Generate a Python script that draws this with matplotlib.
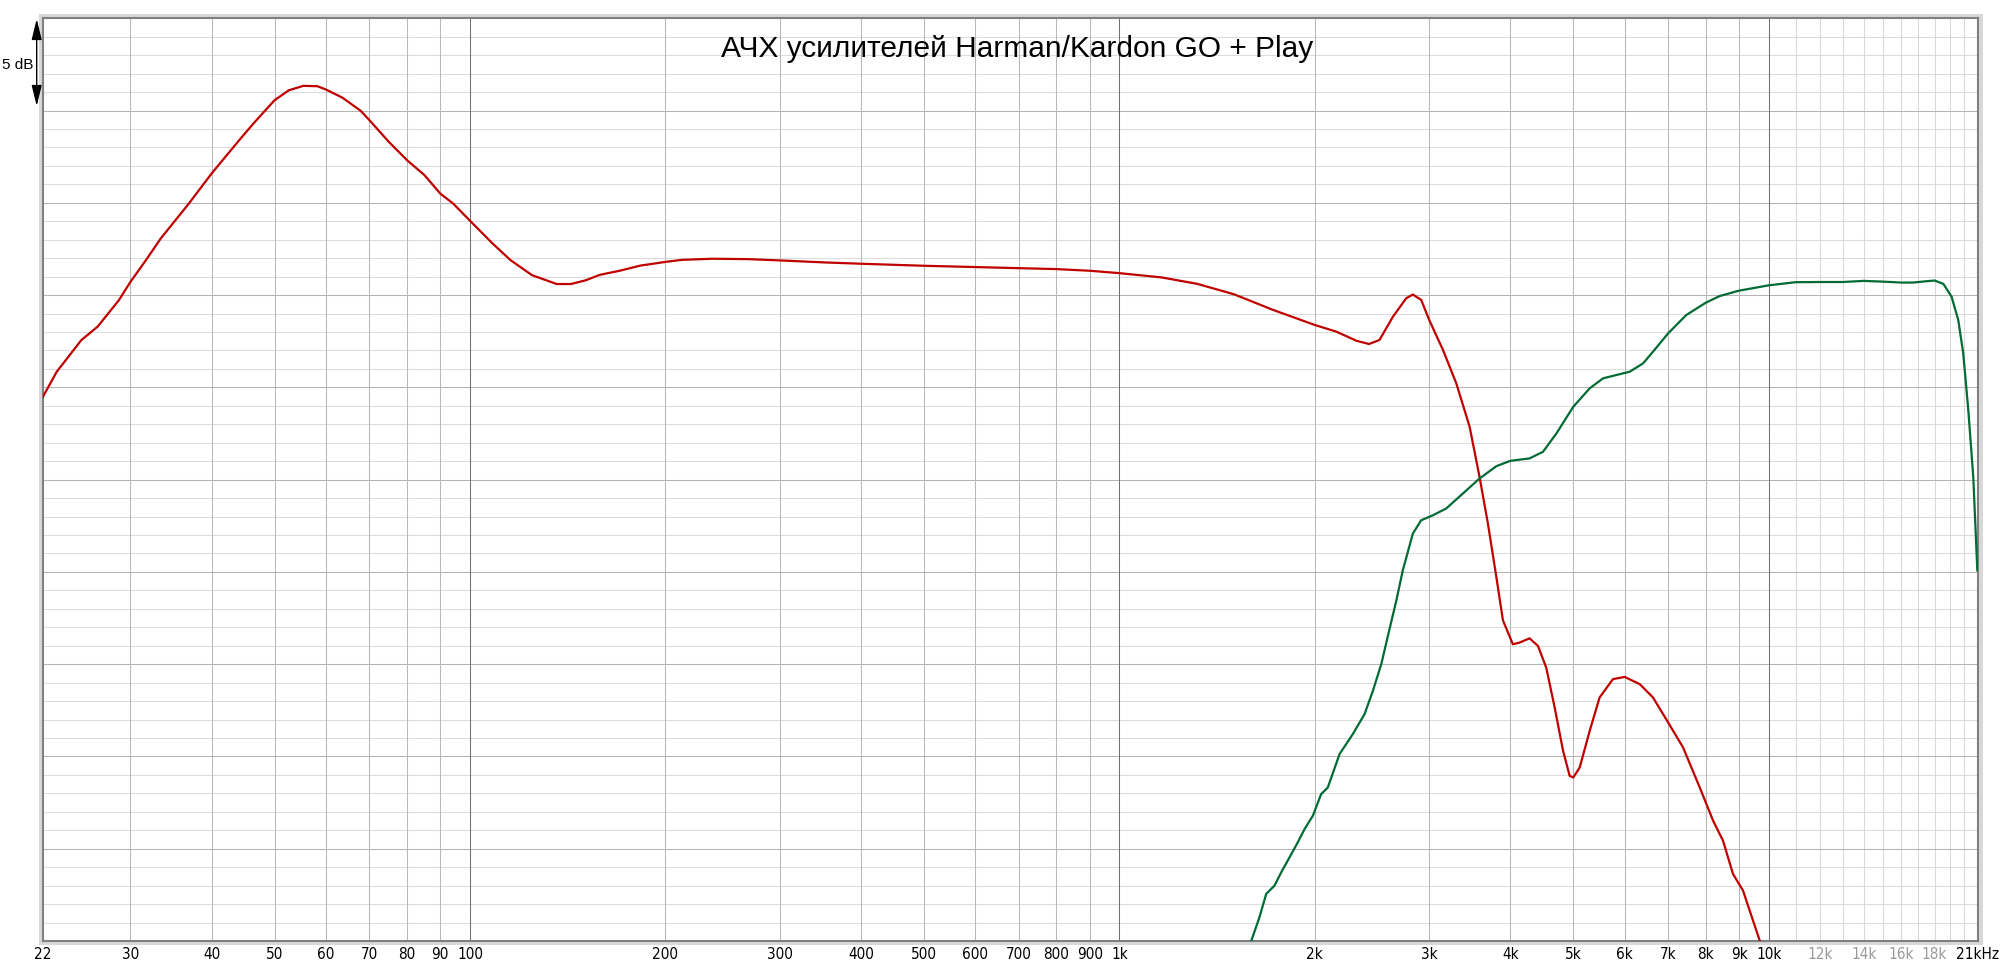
import matplotlib
matplotlib.use("Agg")
import matplotlib.pyplot as plt
from matplotlib.patches import Rectangle
from matplotlib import font_manager

# ---------------- data ----------------
title = "АЧХ усилителей Harman/Kardon GO + Play"

red_freq = [22, 23.1, 25.2, 26.7, 28.8, 30, 31.7, 33.4, 36.9, 40, 44.1, 46.4, 50, 52.6,
            55.4, 58.2, 60, 63.6, 67.8, 70, 75, 80, 85.1, 90, 94.2, 100, 108.3, 115.4,
            124.6, 136, 143, 150.6, 158.5, 170, 183, 200, 212, 236, 268, 300, 352, 400,
            500, 600, 700, 800, 900, 1000, 1161, 1318, 1500, 1724, 2000, 2158, 2316,
            2423, 2515, 2638, 2765, 2831, 2916, 3000, 3150, 3302, 3462, 3586, 3694,
            3806, 3896, 4036, 4133, 4281, 4412, 4544, 4681, 4822, 4936, 5000, 5115,
            5300, 5490, 5755, 6000, 6328, 6632, 7000, 7379, 7829, 8209, 8504, 8810,
            9128, 9458, 9685, 10000]
red_db = [29.5, 30.85, 32.56, 33.29, 34.73, 35.72, 36.9, 38.07, 39.96, 41.59, 43.39, 44.3,
          45.56, 46.1, 46.34, 46.32, 46.14, 45.7, 45.0, 44.48, 43.3, 42.31, 41.5, 40.5,
          39.96, 39.03, 37.8, 36.9, 36.08, 35.6, 35.6, 35.8, 36.1, 36.32, 36.6, 36.8,
          36.91, 36.97, 36.95, 36.88, 36.77, 36.7, 36.59, 36.52, 36.46, 36.41, 36.32,
          36.19, 35.96, 35.61, 35.05, 34.2, 33.38, 33.02, 32.53, 32.35, 32.57, 33.83,
          34.83, 35.03, 34.74, 33.65, 32.03, 30.22, 27.87, 25.15, 22.62, 19.73, 17.38,
          16.08, 16.17, 16.4, 15.99, 14.8, 12.65, 10.31, 8.95, 8.86, 9.40, 11.39, 13.2,
          14.19, 14.31, 13.92, 13.2, 11.84, 10.49, 8.32, 6.52, 5.43, 3.63, 2.73, 1.1,
          0.02, -1.5]

green_freq = [1560, 1596, 1643, 1683, 1733, 1775, 1828, 1882, 1928, 1986, 2045, 2094, 2183,
              2288, 2385, 2457, 2531, 2606, 2669, 2732, 2831, 2916, 3040, 3187, 3381, 3586,
              3806, 4000, 4281, 4491, 4709, 5000, 5300, 5557, 5826, 6108, 6404, 6632, 7000,
              7464, 8000, 8404, 9000, 10000, 11000, 12000, 13000, 14000, 15000, 16000,
              16670, 17470, 18000, 18570, 19120, 19580, 19930, 20290, 20650, 20950]
green_db = [-1.0, 0.0, 1.28, 2.55, 3.0, 3.72, 4.53, 5.34, 6.06, 6.79, 7.96, 8.32, 10.13,
            11.21, 12.29, 13.56, 15.0, 16.9, 18.43, 20.09, 22.08, 22.8, 23.07, 23.44, 24.25,
            25.06, 25.73, 26.02, 26.15, 26.51, 27.5, 28.95, 29.95, 30.49, 30.67, 30.85,
            31.3, 31.93, 32.93, 33.92, 34.59, 34.95, 35.24, 35.53, 35.7, 35.71, 35.71,
            35.77, 35.73, 35.68, 35.68, 35.75, 35.79, 35.61, 34.92, 33.65, 31.84, 28.77,
            25.15, 20.09]

tick_freqs = [22, 30, 40, 50, 60, 70, 80, 90, 100, 200, 300, 400, 500, 600, 700, 800, 900,
              1000, 2000, 3000, 4000, 5000, 6000, 7000, 8000, 9000, 10000, 12000, 14000,
              16000, 18000, 21000]
tick_labels = ["22", "30", "40", "50", "60", "70", "80", "90", "100", "200", "300", "400",
               "500", "600", "700", "800", "900", "1k", "2k", "3k", "4k", "5k", "6k", "7k",
               "8k", "9k", "10k", "12k", "14k", "16k", "18k", "21kHz"]
gray_labels = ["12k", "14k", "16k", "18k"]

# ---------------- figure ----------------
W, H = 2000, 965
fig = plt.figure(figsize=(W / 100, H / 100), dpi=100)
fig.patch.set_facecolor("white")

names = {f.name for f in font_manager.fontManager.ttflist}
if "Liberation Sans Narrow" in names:
    tick_family = ["Liberation Sans Narrow", "DejaVu Sans"]
    tick_kw = {}
else:
    tick_family = ["DejaVu Sans"]
    tick_kw = {"fontstretch": "condensed"}

L, R, T, B = 43, 1978, 18.3, 941
# frame shadow
fig.patches.append(Rectangle((39 / W, 1 - 945 / H), (1983 - 39) / W, (945 - 14) / H,
                             transform=fig.transFigure, facecolor="#d8d8d8",
                             edgecolor="none", zorder=-5))
ax = fig.add_axes([L / W, 1 - B / H, (R - L) / W, (B - T) / H])
ax.set_facecolor("white")
ax.set_xscale("log")
ax.set_xlim(22, 21000)
ax.set_ylim(0, 50)

GW = 0.75
# grid
for db in range(1, 50):
    if db % 5 == 0:
        ax.axhline(db, color="#b4b4b4", lw=GW, zorder=1)
    else:
        ax.axhline(db, color="#dcdcdc", lw=GW, zorder=0.5)
for dec in [10, 100, 1000]:
    for m in range(2, 10):
        f = m * dec
        if 22 < f < 21000:
            ax.axvline(f, color="#b8b8b8", lw=GW, zorder=1)
for f in [100, 1000, 10000]:
    ax.axvline(f, color="#707070", lw=GW, zorder=1.2)
for k in range(11, 21):
    ax.axvline(k * 1000, color="#d8d8d8", lw=GW, zorder=0.8)

ax.plot(red_freq, red_db, color="#c00000", lw=1.6, zorder=3, solid_joinstyle="round")
ax.plot(green_freq, green_db, color="#006b35", lw=1.6, zorder=3, solid_joinstyle="round")

ax.set_yticks([])
ax.minorticks_off()
ax.set_xticks(tick_freqs)
ax.set_xticklabels(tick_labels, family=tick_family, fontsize=11, **tick_kw)
for lab in ax.get_xticklabels():
    if lab.get_text() in gray_labels:
        lab.set_color("#9a9a9a")
ax.tick_params(axis="x", length=0, pad=4.5)
ax.tick_params(axis="y", length=0)
for s in ax.spines.values():
    s.set_color("#808080")
    s.set_linewidth(1.5)

# title
fig.text(1017 / W, 1 - 57 / H, title, ha="center", va="baseline", fontsize=21.5,
         family=["Liberation Sans", "DejaVu Sans"], color="black")

# 5 dB scale marker
ax.annotate("", xy=(36.7, H - 106), xytext=(36.7, H - 19), xycoords="figure pixels",
            textcoords="figure pixels",
            arrowprops=dict(arrowstyle="<|-|>,head_length=0.9,head_width=0.22",
                            color="black", lw=1.0, mutation_scale=14,
                            shrinkA=0, shrinkB=0))
fig.text(33.5 / W, 1 - 65 / H, "5 dB", ha="right", va="center", fontsize=11,
         family=["Liberation Sans", "DejaVu Sans"])

fig.savefig("out.png", dpi=100)
